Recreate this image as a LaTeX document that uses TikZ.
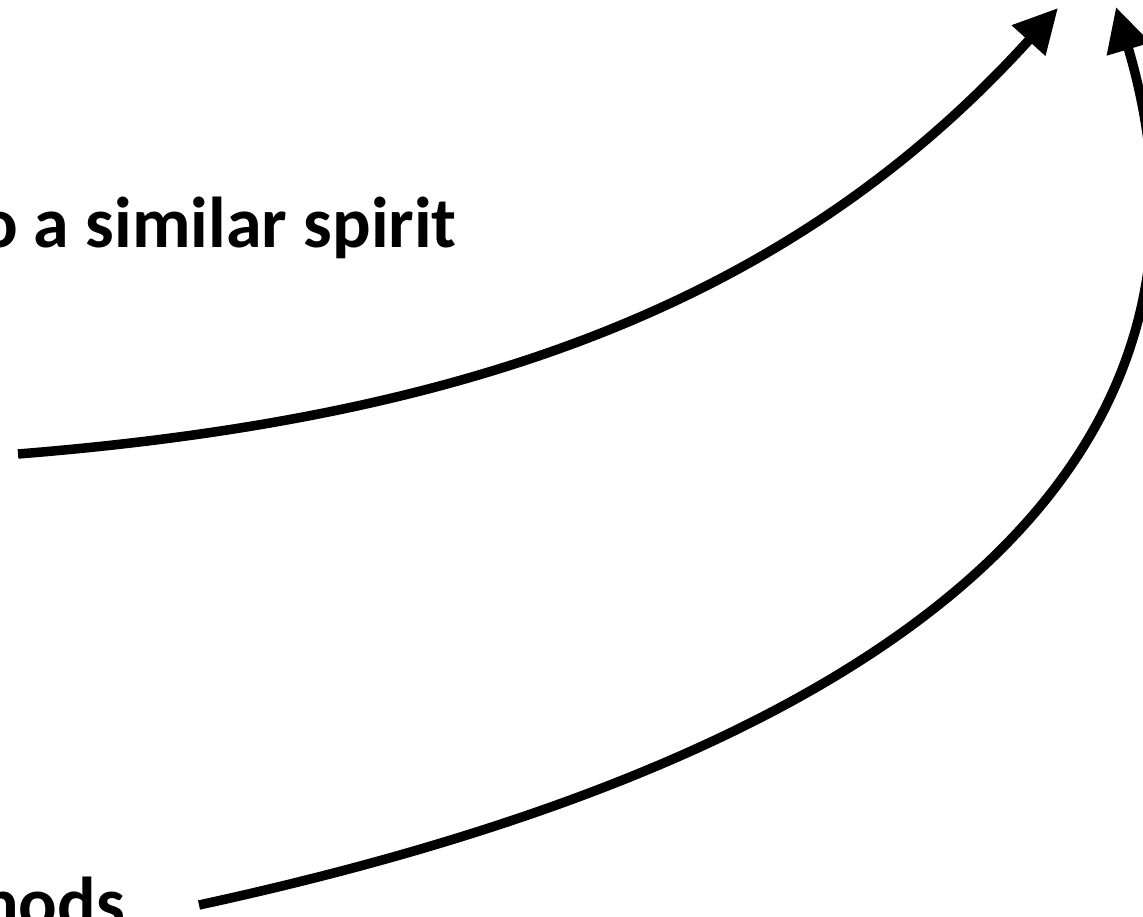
\documentclass[tikz,border=0pt]{standalone}
\usepackage{fontspec}
\setmainfont{Carlito}
\usetikzlibrary{arrows.meta}
\begin{document}
\begin{tikzpicture}[x=1pt,y=-1pt,
  conn/.style={line width=9.5pt, -{Triangle[length=44pt,width=43pt]}},
  lbl/.style={font=\fontsize{72}{86}\selectfont\bfseries, inner sep=0pt, anchor=base east}]
\useasboundingbox (0,0) rectangle (1143,916);
\clip (0,0) rectangle (1143,916);
\node[lbl] (t1) at (457,247) {to a similar spirit};
\node[lbl] (t2) at (125,927) {methods};
\coordinate (s1) at (18,454);
\coordinate (e1) at (1058,8);
\coordinate (s2) at (199,905);
\coordinate (e2) at (1116,7);
\draw[conn] (s1) .. controls (468,418) and (790,304) .. (e1);
\draw[conn] (s2) .. controls (932,746) and (1247,448) .. (e2);
\end{tikzpicture}
\end{document}
